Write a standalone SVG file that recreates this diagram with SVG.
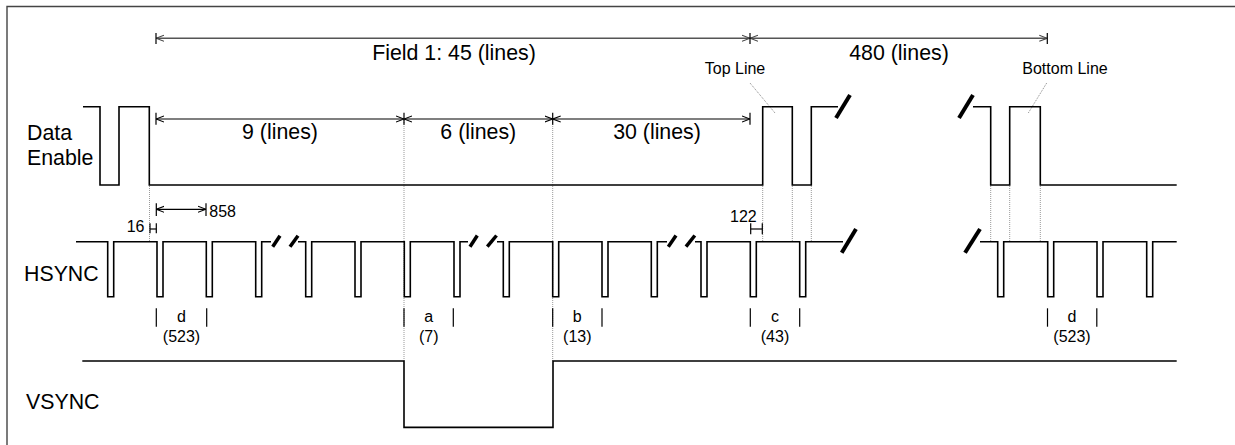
<svg xmlns="http://www.w3.org/2000/svg" width="1235" height="445" viewBox="0 0 1235 445">
<style>
text{font-family:"Liberation Sans",Arial,sans-serif;fill:#000}
.big{font-size:21.33px}
.sm{font-size:16px}
.mid{text-anchor:middle}
.wave{fill:none;stroke:#000;stroke-width:1.6}
.brk{stroke:#000;stroke-width:4;stroke-linecap:butt}
.brks{stroke:#000;stroke-width:3.5;stroke-linecap:butt}
.dot{stroke:#999;stroke-width:1;stroke-dasharray:1 1}
.lead{stroke:#888;stroke-width:1;stroke-dasharray:1 1}
.dim{stroke:#000;stroke-width:1.2;fill:none}
.dimg{stroke:#555;stroke-width:1.4;fill:none}
.tick{stroke:#000;stroke-width:1.2}
</style>
<defs>
<marker id="arr" viewBox="0 0 10 10" refX="10" refY="5" markerWidth="8" markerHeight="8" markerUnits="userSpaceOnUse" orient="auto-start-reverse">
<path d="M0,1.2 L10,5 L0,8.8" fill="none" stroke="#000" stroke-width="1.3"/>
</marker>
<marker id="arrg" viewBox="0 0 10 10" refX="10" refY="5" markerWidth="8" markerHeight="8" markerUnits="userSpaceOnUse" orient="auto-start-reverse">
<path d="M0,1.2 L10,5 L0,8.8" fill="none" stroke="#444" stroke-width="1.3"/>
</marker>
</defs>
<rect x="0" y="0" width="1235" height="445" fill="#fff"/>
<g id="frame"><path d="M7,445 V6.5 H1235" fill="none" stroke="#444" stroke-width="1.4"/></g>

<g id="labels">
<text class="big" x="27" y="140">Data</text>
<text class="big" x="27" y="165">Enable</text>
<text class="big" x="24" y="281">HSYNC</text>
<text class="big" x="26" y="409">VSYNC</text>
</g>

<g id="guides">
<line class="dot" x1="149.5" y1="186" x2="149.5" y2="241"/>
<line class="dot" x1="404" y1="120" x2="404" y2="361"/>
<line class="dot" x1="552.7" y1="120" x2="552.7" y2="361"/>
<line class="dot" x1="762.7" y1="186" x2="762.7" y2="241"/>
<line class="dot" x1="792.3" y1="186" x2="792.3" y2="241"/>
<line class="dot" x1="811.3" y1="186" x2="811.3" y2="241"/>
<line class="dot" x1="990.7" y1="186" x2="990.7" y2="241"/>
<line class="dot" x1="1009.7" y1="186" x2="1009.7" y2="241"/>
<line class="dot" x1="1040.3" y1="186" x2="1040.3" y2="241"/>
<line class="lead" x1="750" y1="83" x2="775" y2="113"/>
<line class="lead" x1="1046.7" y1="83" x2="1028.3" y2="113"/>
</g>

<g id="data-enable">
<path class="wave" d="M83,106.7 H100 V185 H119 V106.7 H149.3 V185 H762.7 V106.7 H792.3 V185 H811.3 V106.7 H838"/>
<path class="wave" d="M973,106.7 H990.7 V185 H1009.7 V106.7 H1040.3 V185 H1176.7"/>
<line class="brk" x1="836" y1="118" x2="850" y2="95"/>
<line class="brk" x1="959" y1="118" x2="973" y2="95"/>
<text class="sm mid" x="735" y="74">Top Line</text>
<text class="sm mid" x="1065" y="74">Bottom Line</text>
</g>

<g id="hsync">
<path class="wave" d="M76,241.7 H107.7 V296.7 H113.7 V241.7 H157 V296.7 H163 V241.7 H206.3 V296.7 H212.3 V241.7 H255.7 V296.7 H261.7 V241.7 H271"/>
<path class="wave" d="M298,241.7 H305.7 V296.7 H311.7 V241.7 H355 V296.7 H361 V241.7 H404.3 V296.7 H410.3 V241.7 H454 V296.7 H460 V241.7 H468"/>
<path class="wave" d="M497,241.7 H503.3 V296.7 H509.3 V241.7 H552.7 V296.7 H558.7 V241.7 H602 V296.7 H608 V241.7 H651.3 V296.7 H657.3 V241.7 H667"/>
<path class="wave" d="M695,241.7 H701 V296.7 H707 V241.7 H750.3 V296.7 H756.3 V241.7 H799.7 V296.7 H805.7 V241.7 H843"/>
<path class="wave" d="M980,241.7 H997.7 V296.7 H1003.7 V241.7 H1047.7 V296.7 H1053.7 V241.7 H1097 V296.7 H1103 V241.7 H1146.7 V296.7 H1152.7 V241.7 H1176.7"/>
<line class="brks" x1="272.7" y1="246.7" x2="280" y2="235.7"/>
<line class="brks" x1="290" y1="246.7" x2="298" y2="235.7"/>
<line class="brks" x1="470" y1="246.7" x2="477.3" y2="235.5"/>
<line class="brks" x1="487.3" y1="246.7" x2="496.5" y2="235.5"/>
<line class="brks" x1="668.3" y1="246.7" x2="676" y2="235.5"/>
<line class="brks" x1="686" y1="246.7" x2="694.8" y2="235.5"/>
<line class="brk" x1="841.7" y1="252.7" x2="856" y2="229"/>
<line class="brk" x1="965" y1="252.7" x2="980" y2="229"/>
</g>

<g id="vsync">
<path class="wave" d="M82.3,361 H404 V427.4 H553 V361 H1176.7"/>
</g>

<g id="connectors">
<line class="dimg" x1="156" y1="38.3" x2="750" y2="38.3" marker-start="url(#arrg)" marker-end="url(#arrg)"/>
<line class="dimg" x1="750" y1="38.3" x2="1047.3" y2="38.3" marker-start="url(#arrg)" marker-end="url(#arrg)"/>
<line class="tick" x1="156" y1="33" x2="156" y2="44"/>
<line class="tick" x1="750" y1="33" x2="750" y2="44"/>
<line class="tick" x1="1047.3" y1="33" x2="1047.3" y2="44"/>
<text class="big mid" x="454" y="60">Field 1: 45 (lines)</text>
<text class="big mid" x="899" y="60">480 (lines)</text>
<line class="dim" x1="156" y1="119" x2="404" y2="119" marker-start="url(#arr)" marker-end="url(#arr)"/>
<line class="dim" x1="404" y1="119" x2="552.7" y2="119" marker-start="url(#arr)" marker-end="url(#arr)"/>
<line class="dim" x1="552.7" y1="119" x2="750" y2="119" marker-start="url(#arr)" marker-end="url(#arr)"/>
<line class="tick" x1="156" y1="112.7" x2="156" y2="124.7"/>
<line class="tick" x1="404" y1="112.7" x2="404" y2="124.7"/>
<line class="tick" x1="552.7" y1="112.7" x2="552.7" y2="124.7"/>
<line class="tick" x1="750" y1="112.7" x2="750" y2="124.7"/>
<text class="big mid" x="280" y="139">9 (lines)</text>
<text class="big mid" x="478.3" y="139">6 (lines)</text>
<text class="big mid" x="657" y="139">30 (lines)</text>
<line class="dim" x1="156.3" y1="209.3" x2="206" y2="209.3" marker-start="url(#arr)" marker-end="url(#arr)"/>
<line class="tick" x1="156.3" y1="203.3" x2="156.3" y2="216"/>
<line class="tick" x1="206" y1="203.3" x2="206" y2="216"/>
<text class="sm" x="209.3" y="217">858</text>
<line class="tick" x1="150" y1="223.3" x2="150" y2="233.3"/>
<line class="tick" x1="156.3" y1="223.3" x2="156.3" y2="233.3"/>
<line class="tick" x1="150" y1="229" x2="156.3" y2="229"/>
<text class="sm" x="126.7" y="232.3">16</text>
<line class="tick" x1="750.7" y1="223.3" x2="750.7" y2="234.3"/>
<line class="tick" x1="762.3" y1="223.3" x2="762.3" y2="234.3"/>
<line class="tick" x1="750.7" y1="229" x2="762.3" y2="229"/>
<text class="sm" x="730" y="221.7">122</text>
<line class="tick" x1="156.3" y1="308.3" x2="156.3" y2="326.7"/>
<line class="tick" x1="206.7" y1="308.3" x2="206.7" y2="326.7"/>
<text class="sm mid" x="181.5" y="322">d</text>
<text class="sm mid" x="181.5" y="341.5">(523)</text>
<line class="tick" x1="404" y1="308.3" x2="404" y2="326.7"/>
<line class="tick" x1="453.3" y1="308.3" x2="453.3" y2="326.7"/>
<text class="sm mid" x="428.7" y="322">a</text>
<text class="sm mid" x="428.7" y="341.5">(7)</text>
<line class="tick" x1="552.7" y1="308.3" x2="552.7" y2="326.7"/>
<line class="tick" x1="602" y1="308.3" x2="602" y2="326.7"/>
<text class="sm mid" x="577.3" y="322">b</text>
<text class="sm mid" x="577.3" y="341.5">(13)</text>
<line class="tick" x1="750.3" y1="308.3" x2="750.3" y2="326.7"/>
<line class="tick" x1="799.7" y1="308.3" x2="799.7" y2="326.7"/>
<text class="sm mid" x="775" y="322">c</text>
<text class="sm mid" x="775" y="341.5">(43)</text>
<line class="tick" x1="1047.5" y1="308.3" x2="1047.5" y2="326.7"/>
<line class="tick" x1="1096.8" y1="308.3" x2="1096.8" y2="326.7"/>
<text class="sm mid" x="1072" y="322">d</text>
<text class="sm mid" x="1072" y="341.5">(523)</text>
</g>
</svg>
